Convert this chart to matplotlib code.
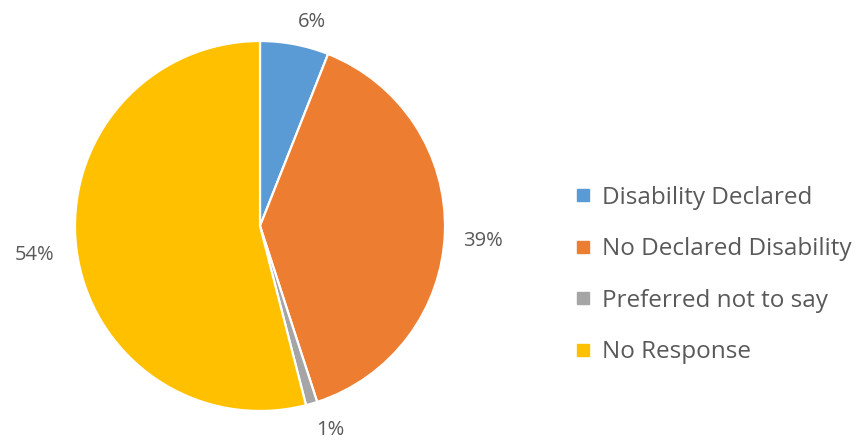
import numpy as np
import matplotlib.pyplot as plt
from matplotlib.lines import Line2D

categories = ["Disability Declared", "No Declared Disability", "Preferred not to say", "No Response"]
values = [6, 39, 1, 54]
colors = ["#5B9BD5", "#ED7D31", "#A5A5A5", "#FFC000"]

# percentage label placement: radial distance (pie radii) and clockwise nudge (degrees)
label_dist = [1.14, 1.21, 1.165, 1.23]
label_nudge = [3.4, 2.0, -2.7, 0.0]

text_color = "#595959"
plt.rcParams["font.family"] = ["Open Sans", "DejaVu Sans"]

W, H = 856, 441
fig = plt.figure(figsize=(W / 100, H / 100), dpi=100)
cx, cy, r = 260, 226, 185
ax = fig.add_axes([(cx - r) / W, (H - cy - r) / H, 2 * r / W, 2 * r / H])

wedges, texts, autotexts = ax.pie(
    values,
    colors=colors,
    startangle=90,
    counterclock=False,
    radius=1.0,
    autopct="%.0f%%",
    pctdistance=1.18,
    wedgeprops=dict(edgecolor="white", linewidth=1.6),
    textprops=dict(color=text_color, fontsize=14.5),
)
for w, t, d, n in zip(wedges, autotexts, label_dist, label_nudge):
    ang = np.deg2rad((w.theta1 + w.theta2) / 2 - n)
    t.set_position((d * np.cos(ang), d * np.sin(ang)))
    t.set_ha("center")
    t.set_va("center")

ax.set_xlim(-1, 1)
ax.set_ylim(-1, 1)
ax.set_aspect("equal")
ax.axis("off")

handles = [
    Line2D([0], [0], marker="s", linestyle="none", markersize=9,
           markerfacecolor=c, markeredgecolor=c)
    for c in colors
]
fig.legend(
    handles, categories,
    loc="center left",
    bbox_to_anchor=(551 / W, 1 - 275 / H),
    frameon=False,
    fontsize=17.5,
    labelcolor=text_color,
    handlelength=0.8,
    handletextpad=0.4,
    labelspacing=1.13,
)

fig.savefig("out.png", dpi=100, facecolor="white")
